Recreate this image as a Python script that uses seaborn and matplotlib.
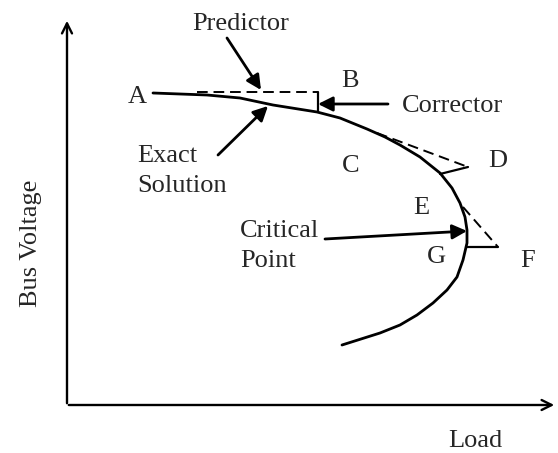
import pandas as pd
import seaborn as sns
import matplotlib.pyplot as plt

# PV curve (load, voltage), in picture units (y grows downwards)
curve_load = [153, 180, 207, 240, 273, 317, 340, 367, 385, 400, 420, 440, 452, 460, 465,
              467, 467, 463, 457, 447, 433, 417, 400, 380, 342]
curve_volt = [93, 94, 95, 98, 105, 112, 118, 129, 137, 145, 157, 173, 188, 203, 217,
              230, 243, 260, 277, 290, 303, 315, 325, 333, 345]

# predictor (dashed) and corrector (solid) steps
pred_start = [(197, 92), (377, 133), (463, 207)]
pred_end = [(318, 92), (468, 167), (498, 247)]
corr_end = [(318, 112), (440, 174), (466, 247)]

# point letters: (text, x, baseline)
letters = [('A', 137, 103), ('B', 350, 87), ('C', 351, 172), ('D', 498, 167),
           ('E', 421, 214), ('G', 436, 263), ('F', 528, 267)]

# callouts: (lines, text x, first baseline, arrow start, arrow tip)
callouts = [(['Predictor'], 192, 30, (227, 38), (261, 90)),
            (['Corrector'], 402, 112, (388, 104), (318, 104)),
            (['Exact', 'Solution'], 137, 162, (218, 155), (268, 106)),
            (['Critical', 'Point'], 240, 237, (325, 239), (467, 231))]
line_gap = 30

sns.set_style('white')
plt.rcParams['font.family'] = ['Liberation Serif', 'DejaVu Serif']

fig, ax = plt.subplots(figsize=(5.58, 4.53), dpi=100)
ax.set_position([0, 0, 1, 1])
ax.set_xlim(0, 558)
ax.set_ylim(453, 0)
ax.axis('off')

df = pd.DataFrame({'load': curve_load, 'volt': curve_volt})
sns.lineplot(data=df, x='load', y='volt', sort=False, estimator=None,
             color='black', lw=2, ax=ax)

for (x0, y0), (x1, y1), (x2, y2) in zip(pred_start, pred_end, corr_end):
    ax.plot([x0, x1], [y0, y1], color='black', lw=1.4, ls=(0, (5.5, 3)))
    ax.plot([x1, x2], [y1, y2], color='black', lw=1.6)

# axes as arrows
ax.annotate('', xy=(67, 18), xytext=(67, 406),
            arrowprops=dict(arrowstyle='->', lw=1.7, color='black', mutation_scale=18))
ax.annotate('', xy=(557, 405), xytext=(66, 405),
            arrowprops=dict(arrowstyle='->', lw=1.7, color='black', mutation_scale=18))

fs = 19
for t, x, y in letters:
    ax.text(x, y, t, ha='center', va='baseline', fontsize=fs)

for lines, x, y, start, tip in callouts:
    for i, t in enumerate(lines):
        ax.text(x, y + i * line_gap, t, ha='left', va='baseline', fontsize=fs)
    ax.annotate('', xy=tip, xytext=start,
                arrowprops=dict(arrowstyle='-|>', lw=2, color='black',
                                mutation_scale=22, shrinkA=0, shrinkB=0))

ax.text(42, 243, 'Bus Voltage', rotation=90, ha='right', va='center', fontsize=fs)
ax.text(475, 447, 'Load', ha='center', va='baseline', fontsize=fs)

fig.savefig('out.png', dpi=100)
